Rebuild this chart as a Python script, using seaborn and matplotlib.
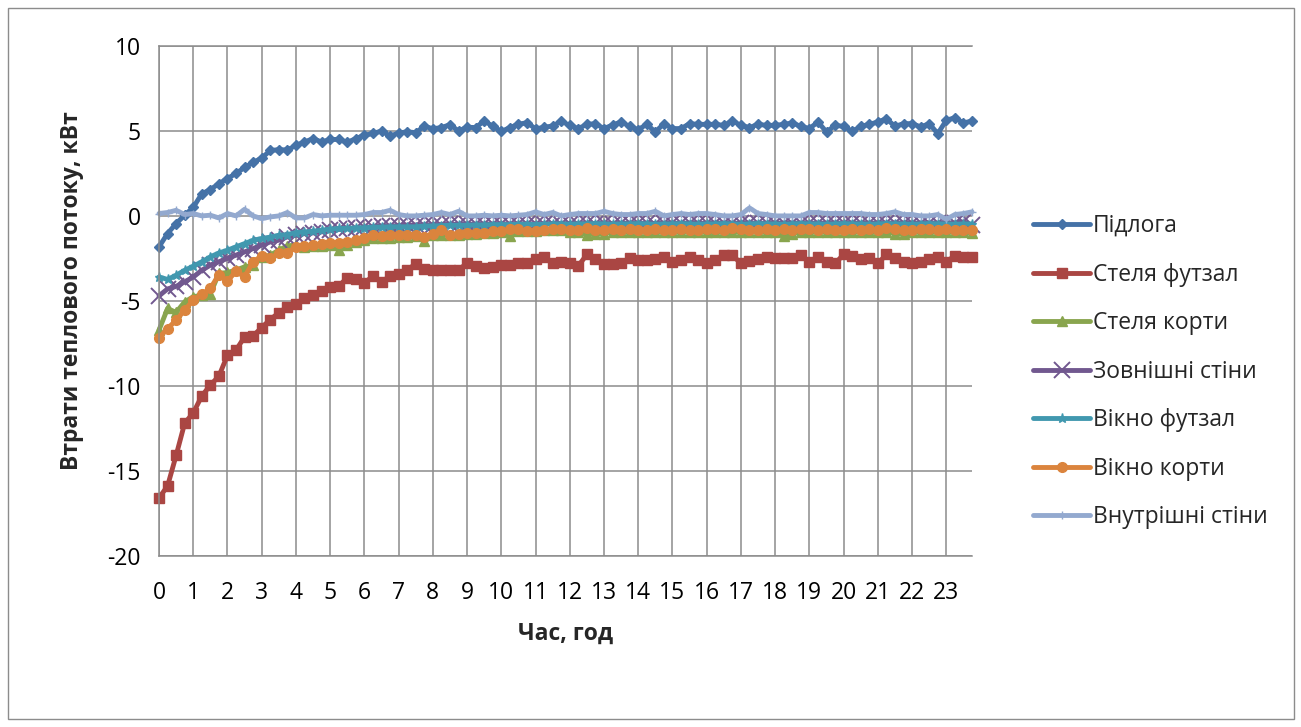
import numpy as np
import pandas as pd
import matplotlib
matplotlib.use("Agg")
import matplotlib.pyplot as plt
from matplotlib.lines import Line2D
from matplotlib.patches import Rectangle
import seaborn as sns

# Time axis: one day in 15-minute steps (hours)
hours = np.arange(96) * 0.25
hour_ticks = list(range(24))
value_ticks = [-20, -15, -10, -5, 0, 5, 10]

series_names = ["Підлога", "Стеля футзал", "Стеля корти", "Зовнішні стіни",
                "Вікно футзал", "Вікно корти", "Внутрішні стіни"]

floor = [
    -1.82, -1.04, -0.45, 0.04, 0.50, 1.30, 1.55, 1.90,
    2.20, 2.50, 2.85, 3.15, 3.40, 3.85, 3.90, 3.88,
    4.15, 4.35, 4.55, 4.35, 4.50, 4.50, 4.33, 4.55,
    4.75, 4.85, 5.00, 4.70, 4.88, 4.95, 4.90, 5.28,
    5.13, 5.20, 5.37, 5.00, 5.22, 5.20, 5.59, 5.28,
    4.97, 5.20, 5.39, 5.49, 5.13, 5.21, 5.30, 5.57,
    5.33, 5.14, 5.39, 5.43, 5.14, 5.35, 5.53, 5.27,
    5.08, 5.39, 4.94, 5.43, 5.14, 5.14, 5.43, 5.39,
    5.39, 5.39, 5.33, 5.59, 5.33, 5.20, 5.39, 5.33,
    5.33, 5.39, 5.47, 5.27, 5.14, 5.53, 4.94, 5.33,
    5.27, 4.98, 5.27, 5.39, 5.53, 5.72, 5.27, 5.43,
    5.43, 5.24, 5.43, 4.84, 5.63, 5.78, 5.47, 5.59]

ceil_futsal = [
    -16.60, -15.90, -14.10, -12.20, -11.60, -10.60, -9.96, -9.43,
    -8.20, -7.90, -7.12, -7.06, -6.57, -6.10, -5.70, -5.35,
    -5.16, -4.86, -4.67, -4.41, -4.17, -4.14, -3.63, -3.69,
    -3.94, -3.55, -3.88, -3.55, -3.43, -3.16, -2.84, -3.10,
    -3.16, -3.20, -3.20, -3.16, -2.80, -2.96, -3.04, -3.00,
    -2.90, -2.90, -2.80, -2.76, -2.56, -2.41, -2.76, -2.70,
    -2.80, -2.94, -2.27, -2.55, -2.86, -2.86, -2.80, -2.47,
    -2.60, -2.60, -2.55, -2.41, -2.74, -2.60, -2.41, -2.60,
    -2.80, -2.60, -2.31, -2.31, -2.80, -2.66, -2.55, -2.41,
    -2.47, -2.47, -2.47, -2.31, -2.70, -2.41, -2.70, -2.80,
    -2.27, -2.35, -2.55, -2.47, -2.80, -2.27, -2.47, -2.70,
    -2.80, -2.70, -2.51, -2.41, -2.70, -2.35, -2.41, -2.41]

ceil_courts = [
    -6.72, -5.45, -5.68, -5.06, -4.76, -4.66, -4.57, -3.39,
    -3.33, -3.19, -3.00, -2.90, -2.41, -2.31, -2.02, -1.76,
    -1.72, -1.82, -1.76, -1.76, -1.72, -2.02, -1.72, -1.53,
    -1.43, -1.33, -1.29, -1.29, -1.24, -1.24, -1.20, -1.49,
    -1.14, -1.10, -1.10, -1.10, -1.04, -1.04, -0.98, -0.98,
    -0.94, -1.18, -0.90, -0.90, -0.90, -0.84, -0.84, -0.84,
    -0.92, -0.95, -1.10, -1.05, -1.05, -0.95, -0.95, -0.95,
    -0.92, -0.95, -0.95, -0.92, -0.95, -0.92, -0.92, -0.95,
    -0.92, -0.92, -0.95, -0.92, -0.95, -0.92, -0.92, -0.95,
    -0.95, -1.20, -1.05, -0.95, -0.92, -0.95, -0.92, -0.95,
    -0.92, -0.92, -0.92, -0.95, -0.95, -0.92, -1.05, -1.05,
    -0.95, -0.92, -0.95, -0.92, -0.92, -0.95, -0.95, -1.00]

ext_walls = [
    -4.70, -4.30, -4.15, -3.88, -3.60, -3.20, -2.90, -2.70,
    -2.50, -2.31, -2.12, -1.92, -1.72, -1.53, -1.43, -1.23,
    -1.14, -1.04, -1.00, -0.94, -0.84, -0.80, -0.74, -0.74,
    -0.68, -0.64, -0.60, -0.60, -0.57, -0.55, -0.54, -0.53,
    -0.52, -0.51, -0.50, -0.50, -0.49, -0.49, -0.48, -0.48,
    -0.47, -0.48, -0.47, -0.46, -0.47, -0.46, -0.45, -0.46,
    -0.45, -0.46, -0.44, -0.45, -0.44, -0.46, -0.44, -0.43,
    -0.44, -0.43, -0.45, -0.44, -0.43, -0.44, -0.42, -0.43,
    -0.44, -0.43, -0.42, -0.44, -0.43, -0.42, -0.43, -0.44,
    -0.42, -0.43, -0.42, -0.43, -0.44, -0.42, -0.43, -0.42,
    -0.43, -0.42, -0.44, -0.43, -0.42, -0.43, -0.41, -0.42,
    -0.43, -0.42, -0.41, -0.43, -0.42, -0.41, -0.36, -0.55]

win_futsal = [
    -3.59, -3.74, -3.49, -3.20, -2.96, -2.70, -2.41, -2.18,
    -2.02, -1.82, -1.63, -1.43, -1.33, -1.25, -1.14, -1.10,
    -0.98, -0.94, -0.90, -0.84, -0.78, -0.74, -0.74, -0.70,
    -0.70, -0.66, -0.66, -0.64, -0.64, -0.64, -0.64, -0.59,
    -0.59, -0.57, -0.55, -0.55, -0.55, -0.53, -0.53, -0.51,
    -0.51, -0.51, -0.49, -0.49, -0.51, -0.49, -0.47, -0.47,
    -0.49, -0.47, -0.47, -0.45, -0.47, -0.49, -0.47, -0.47,
    -0.45, -0.47, -0.49, -0.47, -0.47, -0.45, -0.47, -0.49,
    -0.47, -0.47, -0.45, -0.47, -0.49, -0.47, -0.45, -0.47,
    -0.47, -0.49, -0.47, -0.45, -0.47, -0.47, -0.49, -0.47,
    -0.45, -0.47, -0.47, -0.49, -0.47, -0.45, -0.47, -0.47,
    -0.49, -0.47, -0.45, -0.47, -0.47, -0.49, -0.47, -0.47]

win_courts = [
    -7.18, -6.63, -6.14, -5.55, -4.96, -4.62, -4.27, -3.45,
    -3.84, -3.25, -3.58, -2.70, -2.35, -2.47, -2.21, -2.16,
    -1.82, -1.76, -1.72, -1.68, -1.62, -1.57, -1.53, -1.43,
    -1.29, -1.10, -1.18, -1.14, -1.14, -1.10, -1.14, -1.24,
    -1.04, -0.84, -1.10, -1.04, -0.98, -0.98, -0.98, -0.90,
    -0.90, -0.78, -0.78, -0.90, -0.90, -0.84, -0.78, -0.78,
    -0.84, -0.84, -0.74, -0.84, -0.84, -0.80, -0.84, -0.80,
    -0.84, -0.84, -0.80, -0.84, -0.84, -0.80, -0.84, -0.84,
    -0.80, -0.80, -0.84, -0.74, -0.80, -0.84, -0.84, -0.80,
    -0.84, -0.80, -0.84, -0.80, -0.78, -0.84, -0.80, -0.84,
    -0.84, -0.80, -0.84, -0.80, -0.84, -0.74, -0.80, -0.84,
    -0.84, -0.80, -0.78, -0.84, -0.78, -0.84, -0.84, -0.84]

int_walls = [
    0.14, 0.20, 0.33, 0.08, 0.14, 0.00, 0.04, -0.12,
    0.14, 0.00, 0.39, 0.00, -0.16, -0.06, 0.00, 0.20,
    -0.12, -0.12, 0.08, 0.00, 0.04, 0.04, 0.04, 0.04,
    0.08, 0.20, 0.20, 0.33, 0.08, 0.00, 0.00, 0.04,
    0.08, 0.20, 0.08, 0.27, 0.00, 0.00, 0.04, 0.00,
    0.04, 0.00, 0.04, 0.08, 0.24, 0.08, 0.20, 0.00,
    0.08, 0.14, 0.14, 0.14, 0.27, 0.14, 0.08, 0.08,
    0.14, 0.14, 0.27, 0.00, 0.08, 0.14, 0.08, 0.14,
    0.14, 0.08, 0.00, 0.00, 0.08, 0.47, 0.14, 0.08,
    0.00, 0.00, 0.00, 0.00, 0.20, 0.20, 0.14, 0.14,
    0.14, 0.14, 0.14, 0.08, 0.08, 0.14, 0.24, 0.08,
    0.08, 0.00, 0.00, 0.08, -0.20, 0.08, 0.14, 0.24]

series_values = [floor, ceil_futsal, ceil_courts, ext_walls,
                 win_futsal, win_courts, int_walls]

# Drawing style per series: colour, marker, marker size, marker edge width
styles = [
    ("#4572A7", "D", 5.5, 1.0),
    ("#AA4643", "s", 7.0, 1.0),
    ("#89A54E", "^", 6.5, 1.0),
    ("#71588F", "x", 12.0, 1.4),
    ("#4198AF", "*", 6.5, 1.0),
    ("#DB843D", "o", 7.0, 1.0),
    ("#93A9CF", "+", 5.5, 1.0),
]

sns.set_style("white")
plt.rcParams["font.family"] = ["Open Sans", "DejaVu Sans"]
plt.rcParams["axes.unicode_minus"] = False

W, H = 1301, 727
FS = 16.5
fig = plt.figure(figsize=(W / 100, H / 100), dpi=100)
ax = fig.add_axes([159 / W, 1 - 555.7 / H, (972 - 159) / W, (555.7 - 46) / H])

grid_col = "#8c8c8c"
LW = 3.5

for name, vals, (col, mk, ms, mew) in zip(series_names, series_values, styles):
    df = pd.DataFrame({"hour": hours, "value": vals})
    sns.lineplot(data=df, x="hour", y="value", ax=ax, color=col, linewidth=LW,
                 marker=mk, markersize=ms, markeredgewidth=mew,
                 markerfacecolor=col, markeredgecolor=col, legend=False,
                 clip_on=False)

ax.set_xlim(0, 23.75)
ax.set_ylim(-20, 10)
ax.set_xticks(hour_ticks)
ax.set_xticklabels([str(h) for h in hour_ticks])
ax.set_yticks(value_ticks)
ax.set_yticklabels([str(v) for v in value_ticks])
ax.grid(True, color=grid_col, linewidth=1.1)
ax.set_axisbelow(True)
for side in ["left", "bottom", "top"]:
    ax.spines[side].set_color(grid_col)
    ax.spines[side].set_linewidth(1.1)
ax.spines["right"].set_visible(False)
ax.tick_params(axis="both", direction="out", length=6, width=1.1,
               color=grid_col, labelsize=FS, labelcolor="black")
ax.tick_params(axis="x", pad=12)
ax.tick_params(axis="y", pad=7)

ax.set_xlabel("Час, год", fontsize=FS, fontweight="bold", labelpad=12)
ax.set_ylabel("Втрати теплового потоку, кВт", fontsize=FS, fontweight="bold")
ax.yaxis.set_label_coords(-0.092, 0.52)

handles = [Line2D([0], [0], color=col, linewidth=LW, marker=mk, markersize=ms,
                  markeredgewidth=mew, markerfacecolor=col, markeredgecolor=col)
           for col, mk, ms, mew in styles]
fig.legend(handles, series_names, loc="upper left",
           bbox_to_anchor=(1033 / W, 1 - 214 / H), frameon=False, fontsize=FS,
           handlelength=2.5, handletextpad=0.1, labelspacing=1.07,
           borderpad=0, borderaxespad=0, numpoints=1)

# Chart-area border
fig.patches.append(Rectangle((8 / W, 8 / H), (1294 - 8) / W, (719 - 8) / H,
                             transform=fig.transFigure, fill=False,
                             edgecolor="#8c8c8c", linewidth=1.0))

fig.savefig("out.png", dpi=100)
